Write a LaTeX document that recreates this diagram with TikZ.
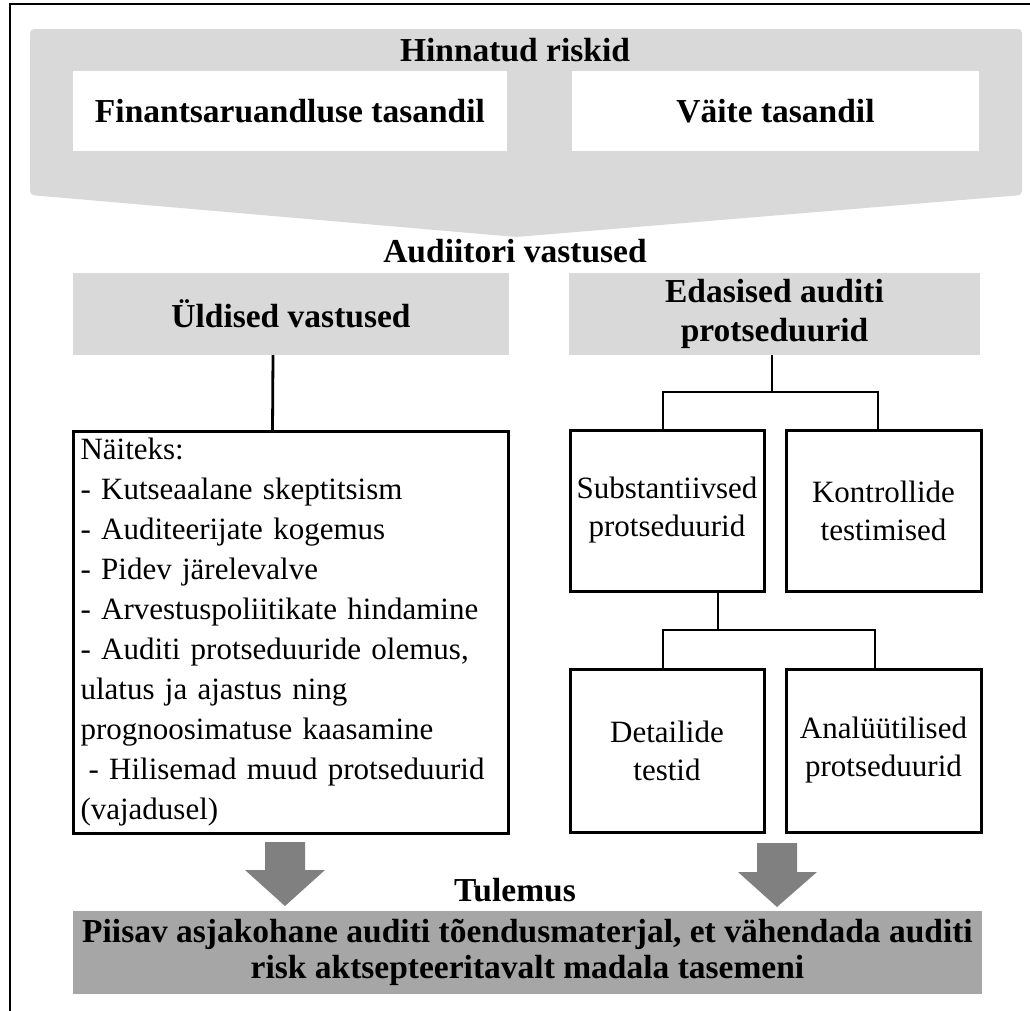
\documentclass[tikz,border=0pt]{standalone}
\usepackage{fontspec}
\setmainfont{Liberation Serif}
\usetikzlibrary{calc}
\definecolor{lgray}{HTML}{D9D9D9}
\definecolor{mgray}{HTML}{A6A6A6}
\definecolor{dgray}{HTML}{808080}
\begin{document}
\begin{tikzpicture}[x=1pt,y=-1pt,
  every node/.style={inner sep=0pt, outer sep=0pt},
  reg/.style={font=\fontsize{31}{38}\selectfont},
  bld/.style={font=\fontsize{33.5}{39}\selectfont\bfseries},
  frameline/.style={line width=2.5pt},
  conn/.style={line width=2.8pt},
  wbox/.style={reg, draw=black, line width=3pt, fill=white, align=center},
  whitebox/.style={bld, fill=white, align=center},
  graybox/.style={bld, fill=lgray, align=center},
  blockarrow/.style={fill=dgray}
]
\useasboundingbox (0,0) rectangle (1030,1010);
% outer frame (top and left)
\draw[frameline] (10,1012) -- (10,4) -- (1032,4);
% top chevron
\fill[lgray, rounded corners=4pt] (30,29) -- (1022,29) -- (1022,195) -- (516,237) -- (30,195) -- cycle;
\node[bld, anchor=base] (hin) at (515,61) {Hinnatud riskid};
\node[whitebox, minimum width=434, minimum height=80] (fin) at (290,111) {Finantsaruandluse tasandil};
\node[whitebox, minimum width=407, minimum height=80] (vai) at (775.5,111) {Väite tasandil};
% responses
\node[bld, anchor=base] (aud) at (515,262) {Audiitori vastused};
\node[graybox, minimum width=436, minimum height=82] (uld) at (291,314) {Üldised vastused};
\node[graybox, minimum width=411, minimum height=82] (eda) at (774.5,314) {Edasised auditi\\protseduurid};
% left examples box
\node[font=\fontsize{31}{40}\selectfont, draw=black, line width=3pt, fill=white, minimum width=435, minimum height=402,
      text width=420, inner xsep=7.5pt, align=left] (nae) at (290.5,632)
  {Näiteks:\\
   - Kutseaalane skeptitsism\\
   - Auditeerijate kogemus\\
   - Pidev järelevalve\\
   - Arvestuspoliitikate hindamine\\
   - Auditi protseduuride olemus,\\
   ulatus ja ajastus ning\\
   prognoosimatuse kaasamine\\
   \hspace*{8pt}- Hilisemad muud protseduurid\\
   (vajadusel)};
% right tree boxes
\node[wbox, minimum width=194, minimum height=161] (sub) at (667,510.5) {Substantiivsed\\protseduurid};
\node[wbox, minimum width=195, minimum height=161] (kon) at (883.5,510.5) {Kontrollide\\testimised};
\node[wbox, minimum width=194, minimum height=163] (det) at (667,750.5) {Detailide\\testid};
\node[wbox, minimum width=195, minimum height=163] (ana) at (883.5,750.5) {Analüütilised\\protseduurid};
% result
\node[bld, anchor=base] (tul) at (515,901) {Tulemus};
\node[font=\fontsize{33.5}{36}\selectfont\bfseries, fill=mgray, align=center,
      minimum width=909, minimum height=83] (res) at (527.5,952)
  {Piisav asjakohane auditi tõendusmaterjal, et vähendada auditi\\risk aktsepteeritavalt madala tasemeni};
% connectors
\coordinate (j1) at (772,392);
\coordinate (j2) at (718,630);
\draw[conn] ([xshift=-18pt]uld.south) -- ([xshift=-18pt]nae.north);
\draw[conn] ([xshift=-2.5pt]eda.south) -- (j1);
\draw[conn] ([xshift=-4pt]sub.north) -- ([xshift=-4pt]sub.north |- j1) -- ([xshift=-5.5pt]kon.north |- j1) -- ([xshift=-5.5pt]kon.north);
\draw[conn] ([xshift=51pt]sub.south) -- (j2);
\draw[conn] ([xshift=-4pt]det.north) -- ([xshift=-4pt]det.north |- j2) -- ([xshift=-8.5pt]ana.north |- j2) -- ([xshift=-8.5pt]ana.north);
% block arrows
\fill[blockarrow] (265,842) -- (305,842) -- (305,870) -- (325,870) -- (285,906) -- (245,870) -- (265,870) -- cycle;
\fill[blockarrow] (757,843) -- (797,843) -- (797,872) -- (817,872) -- (777,907) -- (738,872) -- (757,872) -- cycle;
\end{tikzpicture}
\end{document}
